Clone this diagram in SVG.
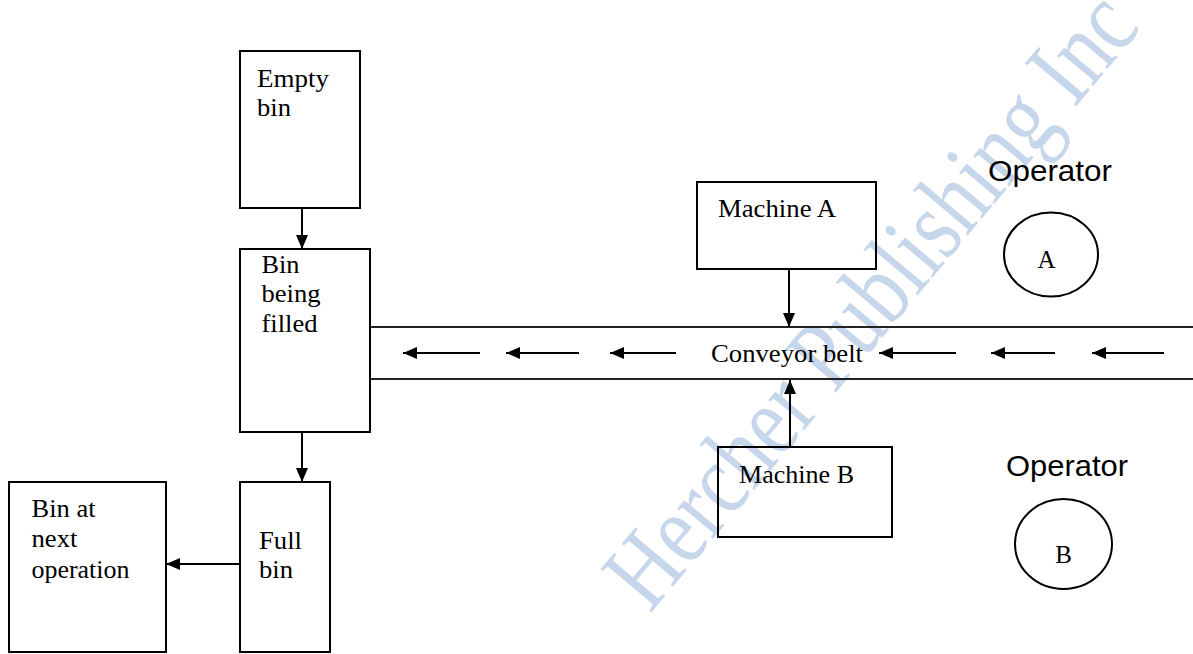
<svg xmlns="http://www.w3.org/2000/svg" width="1193" height="654" viewBox="0 0 1193 654">
<style>
.box{fill:none;stroke:#000;stroke-width:2}
.ln{fill:none;stroke:#000;stroke-width:2}
.belt{fill:none;stroke:#222;stroke-width:2}
.t{font-family:"Liberation Serif","Times New Roman",serif;font-size:25px;fill:#000}
.op{font-family:"Liberation Sans",Arial,sans-serif;font-size:29px;fill:#000}
.wm{font-family:"Liberation Serif","Times New Roman",serif;font-size:102px;fill:#c6d6eb}
</style>
<defs>
<marker id="ah" markerUnits="userSpaceOnUse" markerWidth="15" markerHeight="13" refX="14" refY="6" orient="auto">
<path d="M0,0 L14,6 L0,12 z" fill="#000"/>
</marker>
</defs>
<rect width="1193" height="654" fill="#fff"/>
<text class="wm" transform="translate(650,614) rotate(-50)" textLength="765" lengthAdjust="spacingAndGlyphs">Hercher Publishing Inc</text>

<g id="belt">
<line class="belt" x1="370" y1="327" x2="1193" y2="327"/>
<line class="belt" x1="370" y1="379" x2="1193" y2="379"/>
<text class="t" x="711" y="362" textLength="152" lengthAdjust="spacingAndGlyphs">Conveyor belt</text>
</g>

<g id="empty-bin">
<rect class="box" x="240" y="51" width="120" height="157"/>
<text class="t" x="257" y="87" textLength="72" lengthAdjust="spacingAndGlyphs">Empty</text>
<text class="t" x="257" y="116" textLength="34" lengthAdjust="spacingAndGlyphs">bin</text>
</g>

<g id="bin-being-filled">
<rect class="box" x="240" y="249" width="130" height="183"/>
<text class="t" x="261.5" y="273" textLength="38" lengthAdjust="spacingAndGlyphs">Bin</text>
<text class="t" x="261.5" y="302" textLength="59" lengthAdjust="spacingAndGlyphs">being</text>
<text class="t" x="261.5" y="332" textLength="56" lengthAdjust="spacingAndGlyphs">filled</text>
</g>

<g id="full-bin">
<rect class="box" x="240" y="482" width="90" height="170"/>
<text class="t" x="259" y="549" textLength="43" lengthAdjust="spacingAndGlyphs">Full</text>
<text class="t" x="259" y="578" textLength="34" lengthAdjust="spacingAndGlyphs">bin</text>
</g>

<g id="bin-next-operation">
<rect class="box" x="9" y="482" width="157" height="170"/>
<text class="t" x="31.5" y="517" textLength="64" lengthAdjust="spacingAndGlyphs">Bin at</text>
<text class="t" x="31.5" y="547" textLength="46" lengthAdjust="spacingAndGlyphs">next</text>
<text class="t" x="31.5" y="578" textLength="98" lengthAdjust="spacingAndGlyphs">operation</text>
</g>

<g id="machine-a">
<rect class="box" x="697" y="182" width="179" height="87"/>
<text class="t" x="718" y="217" textLength="118" lengthAdjust="spacingAndGlyphs">Machine A</text>
</g>

<g id="machine-b">
<rect class="box" x="718" y="447" width="174" height="90"/>
<text class="t" x="739" y="483" textLength="115" lengthAdjust="spacingAndGlyphs">Machine B</text>
</g>

<g id="operator-a">
<text class="op" x="988" y="181" textLength="124" lengthAdjust="spacingAndGlyphs">Operator</text>
<ellipse class="box" cx="1051" cy="254.5" rx="47" ry="42"/>
<text class="t" x="1046.5" y="268" text-anchor="middle">A</text>
</g>

<g id="operator-b">
<text class="op" x="1006" y="476" textLength="122" lengthAdjust="spacingAndGlyphs">Operator</text>
<ellipse class="box" cx="1063.5" cy="544" rx="48.5" ry="45"/>
<text class="t" x="1063.5" y="563" text-anchor="middle">B</text>
</g>

<g id="connectors">
<line class="ln" x1="302" y1="208" x2="302" y2="249" marker-end="url(#ah)"/>
<line class="ln" x1="302" y1="432" x2="302" y2="482" marker-end="url(#ah)"/>
<line class="ln" x1="240" y1="564" x2="166" y2="564" marker-end="url(#ah)"/>
<line class="ln" x1="789" y1="269" x2="789" y2="327" marker-end="url(#ah)"/>
<line class="ln" x1="790" y1="447" x2="790" y2="380" marker-end="url(#ah)"/>
<line class="ln" x1="480" y1="353" x2="403" y2="353" marker-end="url(#ah)"/>
<line class="ln" x1="579" y1="353" x2="506" y2="353" marker-end="url(#ah)"/>
<line class="ln" x1="676" y1="353" x2="610" y2="353" marker-end="url(#ah)"/>
<line class="ln" x1="956" y1="353" x2="879" y2="353" marker-end="url(#ah)"/>
<line class="ln" x1="1055" y1="353" x2="991" y2="353" marker-end="url(#ah)"/>
<line class="ln" x1="1164" y1="353" x2="1092" y2="353" marker-end="url(#ah)"/>
</g>
</svg>
